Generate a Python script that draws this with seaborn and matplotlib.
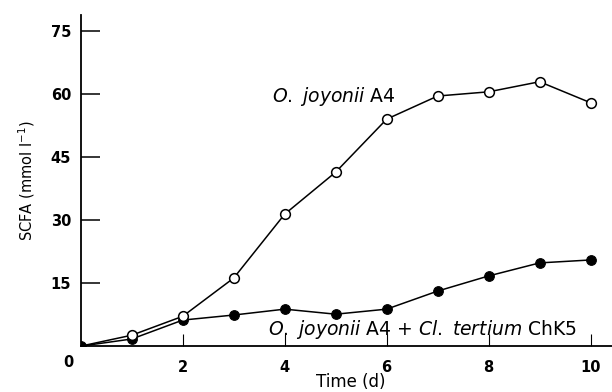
import matplotlib
matplotlib.use("Agg")
import matplotlib.pyplot as plt
import pandas as pd
import seaborn as sns

# values
days = [0, 1, 2, 3, 4, 5, 6, 7, 8, 9, 10]
a4_alone = [0, 2.6, 7.1, 16.2, 31.4, 41.4, 54.0, 59.5, 60.5, 62.9, 57.9]
a4_chk5 = [0, 1.7, 6.2, 7.4, 8.8, 7.6, 8.8, 13.1, 16.7, 19.8, 20.5]
x_ticks = [2, 4, 6, 8, 10]
y_ticks = [15, 30, 45, 60, 75]

df = pd.DataFrame({"day": days, "alone": a4_alone, "mixed": a4_chk5})

sns.set_style("ticks")
plt.rcParams["font.family"] = ["DejaVu Sans"]
plt.rcParams["mathtext.fontset"] = "dejavusans"
for key in ["text.color", "axes.labelcolor", "xtick.color", "ytick.color",
            "axes.edgecolor"]:
    plt.rcParams[key] = "black"

fig = plt.figure(figsize=(6.12, 3.92), dpi=100)
ax = fig.add_axes([0.132, 0.117, 0.868, 0.845])

sns.lineplot(data=df, x="day", y="mixed", ax=ax, color="black", lw=1.1,
             marker="o", markersize=7, markerfacecolor="black",
             markeredgecolor="black")
sns.lineplot(data=df[df.day > 0], x="day", y="alone", ax=ax, color="black",
             lw=1.1, marker="o", markersize=7, markerfacecolor="white",
             markeredgecolor="black", markeredgewidth=1.1)
ax.plot([0, 1], [a4_alone[0], a4_alone[1]], color="black", lw=1.1, zorder=1)

ax.set_xlim(0, 10.42)
ax.set_ylim(0, 78.8)
ax.set_xticks(x_ticks)
ax.set_yticks(y_ticks)
ax.tick_params(axis="y", direction="in", length=14, width=1.1, pad=7,
               labelsize=10.5)
ax.tick_params(axis="x", direction="in", length=9, width=0.8, pad=10,
               labelsize=10.5)
for lab in ax.get_xticklabels() + ax.get_yticklabels():
    lab.set_fontweight("bold")
sns.despine(ax=ax)
ax.spines["left"].set_linewidth(1.3)
ax.spines["bottom"].set_linewidth(1.3)

ax.text(-0.25, -2.2, "0", ha="center", va="top", fontsize=10.5,
        fontweight="bold", transform=ax.transData, clip_on=False)
ax.set_xlabel("Time (d)", fontsize=12, labelpad=0)
ax.xaxis.set_label_coords(0.508, -0.08)
ax.set_ylabel("SCFA (mmol l$^{-1}$)", fontsize=10.5)
ax.yaxis.set_label_coords(-0.083, 0.5)

top_label = r"$\mathit{O.}$ $\mathit{joyonii}$ A4"
bottom_label = (r"$\mathit{O.}$ $\mathit{joyonii}$ A4 + "
                r"$\mathit{Cl.}$ $\mathit{tertium}$ ChK5")
ax.text(3.75, 59.5, top_label, fontsize=13.5, va="center", ha="left")
ax.text(3.68, 4.0, bottom_label, fontsize=13.5, va="center", ha="left")

fig.savefig("out.png", dpi=100)
